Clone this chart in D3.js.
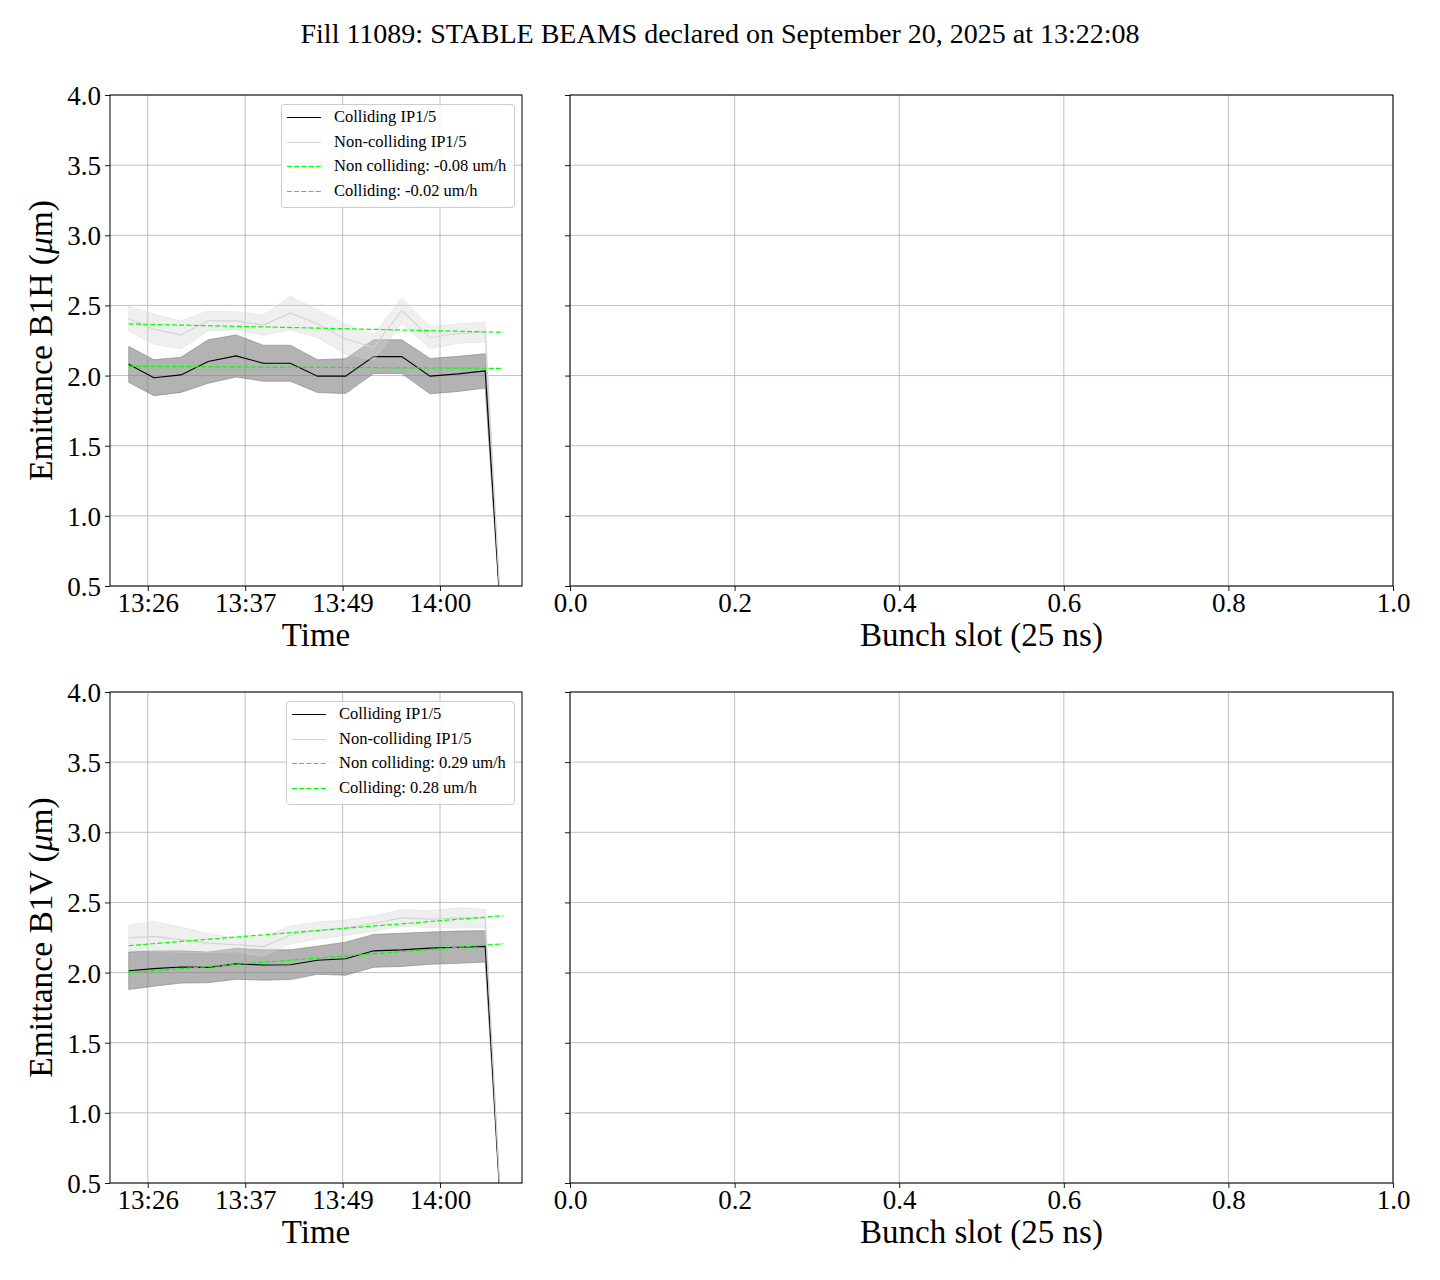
<!DOCTYPE html>
<html>
<head>
<meta charset="utf-8">
<script src="https://cdn.jsdelivr.net/npm/d3@7/dist/d3.min.js"></script>
<style>
  body { margin: 0; background: #fff; }
  svg text { font-family: "Liberation Serif", "DejaVu Serif", serif; fill: #000; }
</style>
</head>
<body>
<svg id="chart" width="1440" height="1280"></svg>
<script>
// ---------------- DATA ----------------
const titleText = "Fill 11089: STABLE BEAMS declared on September 20, 2025 at 13:22:08";
const times = ["13:23:55","13:26:53","13:30:05","13:33:17","13:36:36","13:39:48","13:43:00",
               "13:46:12","13:49:31","13:52:50","13:56:09","13:59:29","14:02:48","14:06:00","14:08:08"];
const timeTicks = ["13:26:10","13:37:40","13:49:10","14:00:40"];
const bunchTicks = [0.0, 0.2, 0.4, 0.6, 0.8, 1.0];
const yTicks = [0.5, 1.0, 1.5, 2.0, 2.5, 3.0, 3.5, 4.0];

// B1H
const colMeanH = [2.08, 1.985, 2.005, 2.10, 2.14, 2.088, 2.088, 1.996, 1.996, 2.135, 2.135, 1.996, 2.012, 2.033, 0.0];
const colStdH  = [0.128, 0.128, 0.125, 0.155, 0.15, 0.128, 0.128, 0.117, 0.124, 0.12, 0.12, 0.126, 0.125, 0.122, 0.0];
const nonMeanH = [2.405, 2.33, 2.29, 2.39, 2.39, 2.36, 2.445, 2.37, 2.26, 2.20, 2.465, 2.27, 2.30, 2.31, 0.0];
const nonStdH  = [0.089, 0.107, 0.10, 0.071, 0.065, 0.072, 0.119, 0.10, 0.107, 0.09, 0.09, 0.078, 0.07, 0.07, 0.0];
// B1V
const colMeanV = [2.013, 2.028, 2.04, 2.037, 2.062, 2.054, 2.056, 2.088, 2.099, 2.155, 2.162, 2.174, 2.181, 2.187, 0.0];
const colStdV  = [0.134, 0.125, 0.115, 0.109, 0.11, 0.108, 0.106, 0.10, 0.118, 0.117, 0.118, 0.115, 0.115, 0.112, 0.0];
const nonMeanV = [2.248, 2.258, 2.235, 2.21, 2.198, 2.185, 2.268, 2.30, 2.32, 2.35, 2.39, 2.38, 2.39, 2.385, 0.0];
const nonStdV  = [0.089, 0.107, 0.09, 0.068, 0.05, 0.07, 0.063, 0.06, 0.055, 0.055, 0.06, 0.06, 0.073, 0.065, 0.0];

// linear fits: [start value, slope um/h]
const fitNonH = [2.368, -0.08], fitColH = [2.066, -0.02];
const fitNonV = [2.192, 0.29],  fitColV = [1.999, 0.28];
const legendH = ["Colliding IP1/5", "Non-colliding IP1/5", "Non colliding: -0.08 um/h", "Colliding: -0.02 um/h"];
const legendV = ["Colliding IP1/5", "Non-colliding IP1/5", "Non colliding: 0.29 um/h", "Colliding: 0.28 um/h"];

// ---------------- DRAW ----------------
const svg = d3.select("#chart");
const parseT = d3.timeParse("%H:%M:%S");
const fmtT = d3.timeFormat("%H:%M");
const T = times.map(parseT);
const tickT = timeTicks.map(parseT);

svg.append("text").attr("x", 720).attr("y", 37).attr("text-anchor", "middle")
   .attr("dominant-baseline", "middle").style("font-size", "28px").text(titleText);

const span = T[T.length-1] - T[0];
const xDomain = [new Date(+T[0] - 0.05*span), new Date(+T[T.length-1] + 0.05*span)];

function panel(top, label, colMean, colStd, nonMean, nonStd, fitNon, fitCol, legTexts, legBox) {
  const L = {x0: 110, x1: 522}, R = {x0: 570, x1: 1393};
  const y0 = top, y1 = top + 491;
  const y = d3.scaleLinear().domain([0.5, 4.0]).range([y1, y0]);
  const x = d3.scaleTime().domain(xDomain).range([L.x0, L.x1]);
  const xb = d3.scaleLinear().domain([0, 1]).range([R.x0, R.x1]);

  const clipId = "clip" + top;
  svg.append("clipPath").attr("id", clipId).append("rect")
     .attr("x", L.x0).attr("y", y0).attr("width", L.x1 - L.x0).attr("height", y1 - y0);

  // grids
  const gridColor = "#b0b0b0";
  [[L, x, tickT], [R, xb, bunchTicks]].forEach(([P, sx, tv]) => {
    const g = svg.append("g");
    tv.forEach(v => g.append("line").attr("x1", sx(v)).attr("x2", sx(v)).attr("y1", y0).attr("y2", y1)
       .attr("stroke", gridColor).attr("stroke-width", 0.8));
    yTicks.forEach(v => g.append("line").attr("x1", P.x0).attr("x2", P.x1).attr("y1", y(v)).attr("y2", y(v))
       .attr("stroke", gridColor).attr("stroke-width", 0.8));
  });

  // data
  const g = svg.append("g").attr("clip-path", `url(#${clipId})`);
  const area = (m, s) => d3.area().x((d, i) => x(T[i])).y0((d, i) => y(m[i] - s[i])).y1((d, i) => y(m[i] + s[i]))(m);
  const line = m => d3.line().x((d, i) => x(T[i])).y(d => y(d))(m);

  g.append("path").attr("d", area(colMean, colStd)).attr("fill", "gray").attr("fill-opacity", 0.6)
   .attr("stroke", "gray").attr("stroke-opacity", 0.6).attr("stroke-width", 1);
  g.append("path").attr("d", line(colMean)).attr("fill", "none").attr("stroke", "#000").attr("stroke-width", 1.1);
  g.append("path").attr("d", area(nonMean, nonStd)).attr("fill", "#d3d3d3").attr("fill-opacity", 0.37)
   .attr("stroke", "#d3d3d3").attr("stroke-opacity", 0.37).attr("stroke-width", 1);
  g.append("path").attr("d", line(nonMean)).attr("fill", "none").attr("stroke", "#d3d3d3").attr("stroke-width", 1.1);

  const tA = T[0], tB = T[T.length-1];
  [fitNon, fitCol].forEach(f => {
    const v = t => f[0] + f[1] * (t - tA) / 3.6e6;
    g.append("line").attr("x1", x(tA)).attr("x2", x(tB)).attr("y1", y(v(tA))).attr("y2", y(v(tB)))
     .attr("stroke", "#00ff00").attr("stroke-width", 1.2).attr("stroke-dasharray", "5,2.2");
  });

  // axes
  const fs = "27px";
  const axL = svg.append("g").attr("transform", `translate(0,${y1})`)
    .call(d3.axisBottom(x).tickValues(tickT).tickFormat(fmtT).tickSize(5).tickPadding(2));
  const axR = svg.append("g").attr("transform", `translate(0,${y1})`)
    .call(d3.axisBottom(xb).tickValues(bunchTicks).tickFormat(d3.format(".1f")).tickSize(5).tickPadding(2));
  const ayL = svg.append("g").attr("transform", `translate(${L.x0},0)`)
    .call(d3.axisLeft(y).tickValues(yTicks).tickFormat(d3.format(".1f")).tickSize(5).tickPadding(4));
  const ayR = svg.append("g").attr("transform", `translate(${R.x0},0)`)
    .call(d3.axisLeft(y).tickValues(yTicks).tickFormat("").tickSize(5));
  [axL, axR, ayL, ayR].forEach(a => {
    a.select(".domain").remove();
    a.selectAll("text").style("font-size", fs).attr("font-family", null);
    a.selectAll("line").attr("stroke", "#000").attr("stroke-width", 0.9);
  });
  ayL.selectAll("text").attr("dy", "0.35em");

  // frames
  [L, R].forEach(P => svg.append("rect").attr("x", P.x0).attr("y", y0).attr("width", P.x1 - P.x0)
     .attr("height", y1 - y0).attr("fill", "none").attr("stroke", "#000").attr("stroke-width", 1));

  // labels
  svg.append("text").attr("x", (L.x0 + L.x1) / 2).attr("y", y1 + 52).attr("text-anchor", "middle")
     .attr("dominant-baseline", "middle").style("font-size", "33px").text("Time");
  svg.append("text").attr("x", (R.x0 + R.x1) / 2).attr("y", y1 + 52).attr("text-anchor", "middle")
     .attr("dominant-baseline", "middle").style("font-size", "33px").text("Bunch slot (25 ns)");
  const yl = svg.append("text").attr("transform", `translate(44,${(y0 + y1) / 2}) rotate(-90)`)
     .attr("text-anchor", "middle").attr("dominant-baseline", "middle").style("font-size", "33.5px");
  yl.append("tspan").text(label + " (");
  yl.append("tspan").style("font-style", "italic").text("μ");
  yl.append("tspan").text("m)");

  // legend
  const lg = svg.append("g");
  lg.append("rect").attr("x", legBox[0] + 0.5).attr("y", legBox[1] + 0.5).attr("width", 514 - legBox[0]).attr("height", 103)
    .attr("rx", 3).attr("fill", "#fff").attr("fill-opacity", 0.8).attr("stroke", "#cccccc").attr("stroke-width", 1);
  const styles = [
    {c: "#000", d: null}, {c: "#d3d3d3", d: null}, {c: "#00ff00", d: "5,2.2"}, {c: "#00ff00", d: "5,2.2"}
  ];
  legTexts.forEach((t, i) => {
    const ly = Math.round(legBox[1] + 13 + i * 24.5) + 0.5;
    lg.append("line").attr("x1", legBox[0] + 6).attr("x2", legBox[0] + 40).attr("y1", ly).attr("y2", ly)
      .attr("stroke", styles[i].c).attr("stroke-width", 1.2).attr("stroke-dasharray", styles[i].d);
    lg.append("text").attr("x", legBox[0] + 53).attr("y", ly + 1).attr("dominant-baseline", "middle")
      .style("font-size", "16.5px").text(t);
  });
}

panel(95, "Emittance B1H", colMeanH, colStdH, nonMeanH, nonStdH, fitNonH, fitColH, legendH, [281, 104]);
panel(692, "Emittance B1V", colMeanV, colStdV, nonMeanV, nonStdV, fitNonV, fitColV, legendV, [286, 701]);
</script>
</body>
</html>
